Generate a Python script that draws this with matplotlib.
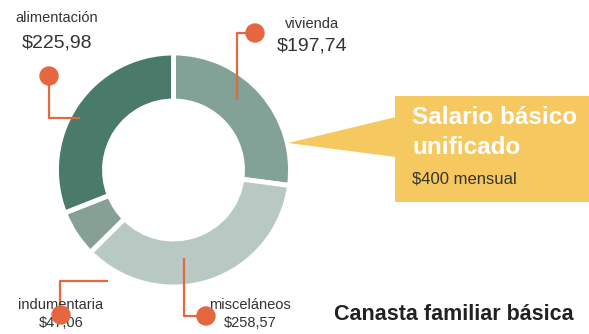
import matplotlib
matplotlib.use("Agg")
import matplotlib.pyplot as plt
from matplotlib.patches import Circle, Rectangle, Polygon

plt.rcParams['font.family'] = ['Liberation Sans', 'DejaVu Sans']

# Basic family basket components (USD)
categories = ["vivienda", "misceláneos", "indumentaria", "alimentación"]
values = [197.74, 258.57, 47.06, 225.98]
value_labels = ["$197,74", "$258,57", "$47,06", "$225,98"]
slice_colors = ["#82a197", "#b8c9c4", "#86a096", "#4a7a69"]

title = "Canasta familiar básica"
box_title_lines = ["Salario básico", "unificado"]
box_sub = "$400 mensual"

W, H = 589, 334
ORANGE = "#e5673f"
YELLOW = "#f5c95f"
TEXT = "#333333"

fig = plt.figure(figsize=(W / 100, H / 100), dpi=100)
ax = fig.add_axes([0, 0, 1, 1])


def Y(p):
    return H - p


cx, cy = 173.5, 170
ax.pie(values, colors=slice_colors, startangle=90, counterclock=False,
       radius=117, center=(cx, Y(cy)),
       wedgeprops=dict(width=48, edgecolor="white", linewidth=3.5))

ax.set_xlim(0, W)
ax.set_ylim(0, H)
ax.set_aspect("equal")
ax.axis("off")


def leader(points, dot):
    xs = [p[0] for p in points]
    ys = [Y(p[1]) for p in points]
    ax.plot(xs, ys, color=ORANGE, lw=1.6, solid_capstyle="butt", zorder=4)
    ax.add_patch(Circle((dot[0], Y(dot[1])), 9, color=ORANGE, zorder=6))


# alimentación
leader([(49, 76), (49, 118), (80, 118)], (49, 76))
ax.text(57, Y(18), categories[3], ha="center", va="center", fontsize=10.5, color=TEXT)
ax.text(57, Y(43), value_labels[3], ha="center", va="center", fontsize=14, color=TEXT)

# vivienda
leader([(255, 33), (237, 33), (237, 100)], (255, 33))
ax.text(312, Y(24), categories[0], ha="center", va="center", fontsize=10.5, color=TEXT)
ax.text(312, Y(46), value_labels[0], ha="center", va="center", fontsize=14, color=TEXT)

# indumentaria
ax.text(61, Y(305), categories[2], ha="center", va="center", fontsize=10.5, color=TEXT, zorder=5)
ax.text(61, Y(323), value_labels[2], ha="center", va="center", fontsize=10.5, color=TEXT, zorder=5)
leader([(108, 281), (60, 281), (60, 315)], (61, 315))

# misceláneos
ax.text(250, Y(305), categories[1], ha="center", va="center", fontsize=10.5, color=TEXT, zorder=5)
ax.text(250, Y(323), value_labels[1], ha="center", va="center", fontsize=10.5, color=TEXT, zorder=5)
leader([(184, 258), (184, 316), (206, 316)], (206, 316))

# minimum wage callout
ax.add_patch(Rectangle((395, Y(202)), 200, 106, color=YELLOW, lw=0, zorder=3))
ax.add_patch(Polygon([(288, Y(143)), (396, Y(117)), (396, Y(157))],
                     closed=True, color=YELLOW, lw=0, zorder=3))
for line, yp in zip(box_title_lines, (117, 148)):
    ax.text(412, Y(yp), line, ha="left", va="center", fontsize=17.5,
            fontweight="bold", color="white", zorder=5)
ax.text(412, Y(179), box_sub, ha="left", va="center", fontsize=12,
        color=TEXT, zorder=5)

ax.text(574, Y(314), title, ha="right", va="center", fontsize=15.5,
        fontweight="bold", color="#222222")

fig.savefig("out.png", dpi=100)
